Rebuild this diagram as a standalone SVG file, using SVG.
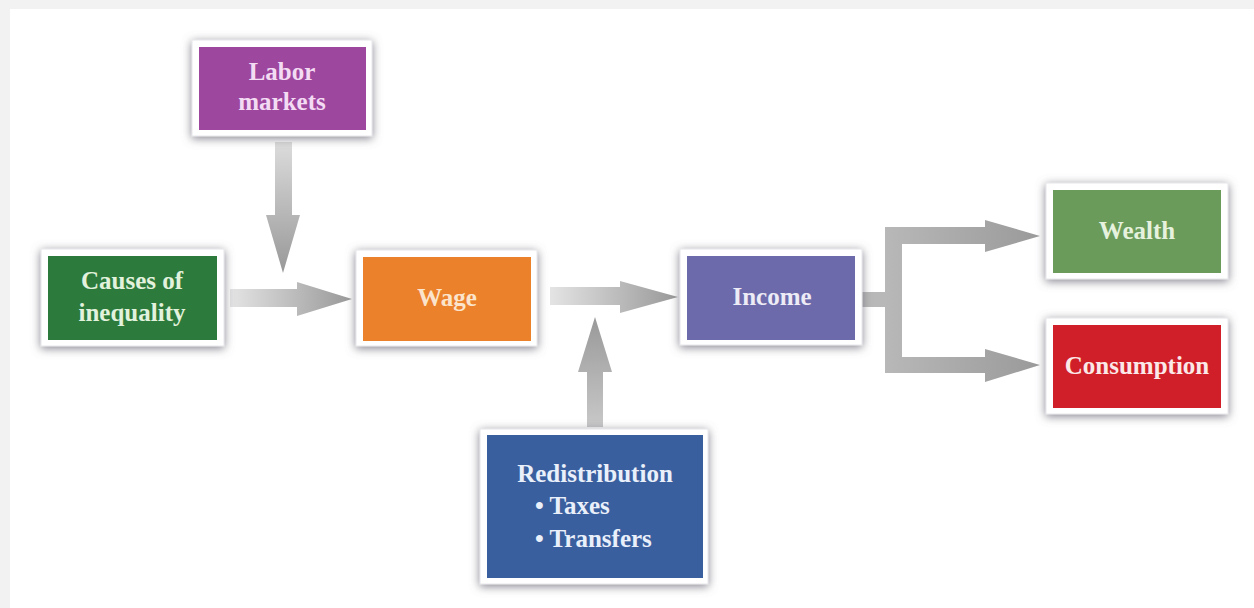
<svg xmlns="http://www.w3.org/2000/svg" width="1254" height="608" viewBox="0 0 1254 608">
  <defs>
    <filter id="sh" x="-20%" y="-25%" width="140%" height="150%">
      <feDropShadow dx="0" dy="2" stdDeviation="5" flood-color="#6e6e7a" flood-opacity="0.85"/>
    </filter>
    <linearGradient id="gh" x1="0" y1="0" x2="1" y2="0">
      <stop offset="0" stop-color="#e4e4e4"/>
      <stop offset="1" stop-color="#989898"/>
    </linearGradient>
    <linearGradient id="gd" x1="0" y1="0" x2="0" y2="1">
      <stop offset="0" stop-color="#dcdcdc"/>
      <stop offset="1" stop-color="#989898"/>
    </linearGradient>
    <linearGradient id="gu" x1="0" y1="1" x2="0" y2="0">
      <stop offset="0" stop-color="#c8c8c8"/>
      <stop offset="1" stop-color="#999999"/>
    </linearGradient>
    <linearGradient id="gb" x1="0" y1="0" x2="1" y2="0">
      <stop offset="0" stop-color="#b8b8b8"/>
      <stop offset="1" stop-color="#9a9a9a"/>
    </linearGradient>
  </defs>
  <style>
    .frame { fill: #ffffff; stroke: #e6e6ea; stroke-width: 1; }
    .lbl { font-family: "Liberation Serif", "Times New Roman", serif; font-weight: bold; font-size: 25px; text-anchor: middle; }
  </style>

  <rect x="0" y="0" width="1254" height="608" fill="#ffffff"/>
  <rect x="0" y="0" width="1254" height="9" fill="#f2f2f2"/>
  <rect x="0" y="0" width="10" height="608" fill="#f2f2f2"/>

  <g id="connectors">
    <polygon points="275,142 292,142 292,215 300,215 283,273 266,215 275,215" fill="url(#gd)"/>
    <polygon points="230,289 297,289 297,282 352,299 297,316 297,307 230,307" fill="url(#gh)"/>
    <polygon points="550,287 620,287 620,281 678,297 620,313 620,305 550,305" fill="url(#gh)"/>
    <polygon points="587,427 587,372 578,372 595,317 612,372 603,372 603,427" fill="url(#gu)"/>
    <rect x="862" y="292" width="25" height="15" fill="#b8b8b8"/>
    <path d="M885,227 H985 V220 L1040,236 L985,252 V244 H902 V357 H985 V349 L1040,365 L985,382 V373 H885 Z" fill="url(#gb)"/>
  </g>

  <g id="labor-markets">
    <rect class="frame" x="192" y="40" width="180" height="96" filter="url(#sh)"/>
    <rect x="199" y="47" width="167" height="83" fill="#9e479f"/>
    <text class="lbl" x="282" y="80" fill="#f3dcf3">Labor</text>
    <text class="lbl" x="282" y="110" fill="#f3dcf3">markets</text>
  </g>

  <g id="causes">
    <rect class="frame" x="41" y="249" width="183" height="97" filter="url(#sh)"/>
    <rect x="48" y="256" width="169" height="84" fill="#2c7a3c"/>
    <text class="lbl" x="132" y="289" fill="#e2f2dc">Causes of</text>
    <text class="lbl" x="132" y="321" fill="#e2f2dc">inequality</text>
  </g>

  <g id="wage">
    <rect class="frame" x="356" y="250" width="181" height="96" filter="url(#sh)"/>
    <rect x="363" y="257" width="168" height="84" fill="#eb812b"/>
    <text class="lbl" x="447" y="306" fill="#fbe4cc">Wage</text>
  </g>

  <g id="income">
    <rect class="frame" x="680" y="249" width="182" height="96" filter="url(#sh)"/>
    <rect x="687" y="256" width="168" height="84" fill="#6c6aab"/>
    <text class="lbl" x="772" y="305" fill="#ecebf6">Income</text>
  </g>

  <g id="wealth">
    <rect class="frame" x="1046" y="183" width="182" height="96" filter="url(#sh)"/>
    <rect x="1053" y="190" width="168" height="83" fill="#6a9b5b"/>
    <text class="lbl" x="1137" y="239" fill="#e6f2de">Wealth</text>
  </g>

  <g id="consumption">
    <rect class="frame" x="1046" y="318" width="182" height="96" filter="url(#sh)"/>
    <rect x="1053" y="325" width="168" height="83" fill="#d11f29"/>
    <text class="lbl" x="1137" y="374" fill="#fbe8e8">Consumption</text>
  </g>

  <g id="redistribution">
    <rect class="frame" x="480" y="429" width="228" height="155" filter="url(#sh)"/>
    <rect x="487" y="435" width="216" height="143" fill="#3a5f9f"/>
    <text class="lbl" x="595" y="482" fill="#eaf0fa">Redistribution</text>
    <text class="lbl" x="535" y="514" fill="#eaf0fa" style="text-anchor:start">• Taxes</text>
    <text class="lbl" x="535" y="547" fill="#eaf0fa" style="text-anchor:start">• Transfers</text>
  </g>
</svg>
